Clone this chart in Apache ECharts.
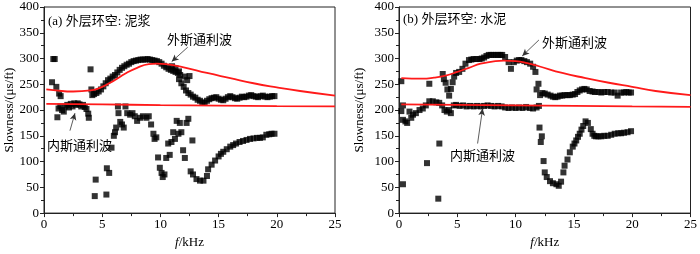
<!DOCTYPE html>
<html>
<head>
<meta charset="utf-8">
<script src="https://cdn.jsdelivr.net/npm/echarts@6/dist/echarts.min.js"></script>
<style>
  html, body { margin: 0; padding: 0; background: #fff; }
  #chart { width: 700px; height: 254px; }
</style>
</head>
<body>
<div id="chart"></div>
<script>
// 数据 (a) 外层环空: 泥浆
var scatterA = [
  [0.69,254],[0.8,299],[0.92,299],[1.06,245],[1.15,186],[1.3,232],[1.43,227],
  [1.25,203],[1.4,207],[1.55,200],[1.7,197],[1.85,207],[2.0,210],[2.15,205],[2.3,212],[2.45,207],
  [2.6,213],[2.75,210],[2.9,213],[3.05,211],[3.2,207],[3.35,210],[3.5,206],[3.65,202],[3.8,193],
  [3.85,185],[4.0,279],[4.07,240],
  [4.15,229],[4.3,231],[4.5,233],[4.7,236],[4.9,240],[5.1,246],[5.3,252],[5.5,258],[5.7,261],
  [5.9,265],[6.1,268],[6.3,273],[6.5,278],[6.7,282],[6.9,285],[7.1,288],[7.3,290],[7.5,293],
  [7.7,295],[7.9,296],[8.1,297],[8.3,298],[8.5,298],[8.7,298],[8.9,299],[9.1,298],[9.3,297],
  [9.5,296],[9.7,295],[9.9,293],[10.1,290],[10.3,286],[10.5,283],[10.7,280],[10.9,278],[11.1,276],
  [11.3,274],[11.5,272],[11.7,268],[11.6,260],[11.8,252],[12.0,245],[12.2,238],[12.4,233],
  [12.6,230],[12.8,226],[13.0,224],[13.2,220],[13.4,218],[13.6,215],[13.8,214],[14.0,218],
  [14.2,221],[14.4,223],[14.6,224],[14.8,225],[15.0,222],[15.2,220],[15.4,219],[15.6,222],
  [15.8,225],[16.0,227],[16.2,225],[16.4,223],[16.6,222],[16.8,224],[17.0,226],[17.2,225],
  [17.4,226],[17.6,228],[17.8,229],[18.0,227],[18.2,226],[18.4,225],[18.6,227],[18.8,228],
  [19.0,226],[19.2,225],[19.4,226],[19.6,227],[19.8,227],
  [11.0,285],[11.3,281],[11.6,275],[12.1,265],[12.5,266],[12.3,258],
  [4.36,33],[4.44,65],[5.36,36],[5.4,87],[5.6,78],[5.8,127],[6.0,150],[6.1,157],[6.2,166],
  [6.35,207],[6.4,194],[6.55,177],[6.7,172],[6.85,166],[7.0,207],[7.15,194],[7.4,191],[7.6,194],
  [7.8,188],[8.0,179],[8.25,185],[8.5,188],[8.8,185],[9.0,188],[9.2,172],[9.4,154],[9.5,144],
  [9.65,147],[9.8,108],[9.95,88],[10.1,78],[10.2,70],[10.35,75],[10.5,107],[10.67,135],[10.8,113],
  [10.95,138],[11.1,157],[11.25,144],[11.4,179],[11.55,154],[11.67,175],[11.8,157],[11.95,122],
  [12.1,107],[12.25,175],[12.4,183],[12.75,141],[12.6,81],[12.8,75],[13.1,66],[13.4,63],[13.7,63],
  [14.0,72],[14.1,85],[14.4,94],[14.7,102],[15.0,110],[15.2,115],[15.4,119],[15.7,124],[16.0,129],
  [16.25,132],[16.5,135],[16.8,138],[17.1,140],[17.4,142],[17.7,144],[18.0,145],[18.3,146],
  [18.55,146],[18.8,147],[19.1,152],[19.35,153],[19.55,154],[19.8,154]
];
var outerA = [[0.2,240],[1,238],[2.5,236],[4,238],[5,245],[6,257],[7,271],[8,282],[9,289],
  [9.7,290],[10.5,289],[12,283],[14,272],[16,262],[18,252],[20,244],[22,237],[25,228]];
var innerA = [[0.2,212],[5,211],[10,209.5],[15,208.5],[20,207.5],[25,207]];

// 数据 (b) 外层环空: 水泥
var scatterB = [
  [0.2,256],[0.2,198],[0.34,209],[0.34,181],[0.55,178],[0.7,175],[0.9,197],[1.05,185],[1.2,191],
  [1.45,194],[1.76,200],[2.04,203],[2.3,209],[2.6,217],[2.9,217],[3.2,215],[3.45,214],[3.7,209],
  [3.9,200],[4.1,197],[4.3,200],[4.45,194],[4.7,209],[4.9,210],[5.2,208],[5.5,209],[5.8,207],
  [6.1,208],[6.4,207],[6.7,208],[7.0,207],[7.3,208],[7.6,209],[7.9,208],[8.2,207],[8.5,208],
  [8.8,207],[9.1,205],[9.4,204],[9.7,205],[10.0,204],[10.3,205],[10.6,204],[10.9,206],[11.2,204],
  [11.5,203],[11.8,205],[12.0,208],
  [2.6,251],[3.75,270],[3.85,260],[4.0,253],[4.15,240],[4.3,228],[4.45,241],[4.6,254],[4.73,265],
  [4.9,272],[5.16,274],[5.44,280],[5.7,290],[6.0,297],[6.2,298],[6.4,299],[6.65,299],[6.9,299],
  [7.1,300],[7.3,302],[7.5,305],[7.7,307],[7.9,307],[8.1,307],[8.3,307],[8.5,307],[8.7,307],
  [8.85,307],[9.1,303],[9.4,293],[9.6,280],[9.85,293],[10.1,296],[10.3,297],[10.5,297],[10.75,295],
  [10.97,293],[11.25,290],[11.5,284],[11.7,274],[11.8,240],[11.96,251],[12.1,229],[12.3,233],
  [12.5,232],[12.75,230],[13.0,228],[13.2,226],[13.4,225],[13.6,226],[13.8,228],[14.0,228],
  [14.2,229],[14.45,229],[14.65,229],[14.9,230],[15.1,231],[15.3,235],[15.5,238],[15.7,240],
  [15.9,241],[16.1,240],[16.35,237],[16.6,236],[16.8,235],[17.1,235],[17.35,234],[17.6,235],
  [17.9,235],[18.2,234],[18.5,234],[18.75,228],[19.05,234],[19.3,234],[19.5,235],[19.7,234],[19.9,234],
  [0.34,56],[2.4,97],[3.46,135],[3.37,28],
  [12.05,166],[12.16,138],[12.25,149],[12.4,101],[12.5,79],[12.67,70],[12.95,62],[13.2,58],
  [13.5,56],[13.7,53],[13.9,61],[14.1,79],[14.2,92],[14.45,104],[14.65,118],[14.9,129],[15.05,135],
  [15.2,141],[15.35,148],[15.5,154],[15.65,162],[15.8,169],[16.0,178],[16.2,175],[16.45,163],
  [16.6,154],[16.75,150],[16.9,149],[17.1,149],[17.35,149],[17.6,150],[17.9,150],[18.2,152],
  [18.5,154],[18.8,155],[19.05,155],[19.3,156],[19.6,157],[19.9,159]
];
var outerB = [[0.2,262],[2,261],[3,263],[4,267],[5,274],[6,282],[7,290],[8,294],[9,296],[10,295],
  [11,291],[12,285],[14,272],[16,262],[18,253],[20,245],[22,237],[25,229]];
var innerB = [[0.2,211],[5,210],[10,209],[15,208],[20,207],[25,206]];

var xTicks = { min: 0, max: 25, interval: 5 };
var yTicks = { min: 0, max: 400, interval: 50 };

var serif = '"Liberation Serif", "Times New Roman", serif';
var cjk = '"Liberation Serif", "Noto Sans CJK SC", serif';

function xAxis(idx) {
  return {
    type: 'value', gridIndex: idx, min: xTicks.min, max: xTicks.max, interval: xTicks.interval,
    name: '{i|f}/kHz', nameLocation: 'middle', nameGap: 19,
    nameTextStyle: { fontFamily: serif, fontSize: 13, color: '#000',
      rich: { i: { fontFamily: serif, fontStyle: 'italic', fontSize: 13, color: '#000' } } },
    axisLine: { show: true, lineStyle: { color: '#222', width: 1 } },
    axisTick: { show: true, inside: false, length: 4, lineStyle: { color: '#222' } },
    minorTick: { show: true, splitNumber: 2, length: 3, lineStyle: { color: '#222' } },
    axisLabel: { fontFamily: serif, fontSize: 13, color: '#000', margin: 5 },
    splitLine: { show: false }
  };
}
function yAxis(idx, gap) {
  return {
    type: 'value', gridIndex: idx, min: yTicks.min, max: yTicks.max, interval: yTicks.interval,
    name: 'Slowness/(μs/ft)', nameLocation: 'middle', nameGap: gap,
    nameTextStyle: { fontFamily: serif, fontSize: 13, color: '#000' },
    axisLine: { show: true, lineStyle: { color: '#222', width: 1 } },
    axisTick: { show: true, inside: false, length: 4, lineStyle: { color: '#222' } },
    minorTick: { show: true, splitNumber: 2, length: 3, lineStyle: { color: '#222' } },
    axisLabel: { fontFamily: serif, fontSize: 13, color: '#000', margin: 5 },
    splitLine: { show: false }
  };
}
function dots(idx, data) {
  return { type: 'scatter', xAxisIndex: idx, yAxisIndex: idx, data: data,
    symbol: 'rect', symbolSize: 6, itemStyle: { color: '#000' }, z: 2, silent: true };
}
function curve(idx, data) {
  return { type: 'line', xAxisIndex: idx, yAxisIndex: idx, data: data, smooth: true,
    showSymbol: false, lineStyle: { color: '#ff1a1a', width: 1.8 }, z: 3, silent: true };
}
function arrow(idx, from, to) {
  return { type: 'line', xAxisIndex: idx, yAxisIndex: idx, data: [], silent: true,
    markLine: { silent: true, symbol: ['none', 'arrow'], symbolSize: [5, 7],
      label: { show: false }, lineStyle: { color: '#333', width: 0.8, type: 'solid' },
      data: [[{ coord: from }, { coord: to }]] } };
}
function note(x, y, text) {
  return { type: 'text', left: x, top: y, z: 10,
    style: { text: text, font: '13px ' + cjk, fill: '#000' } };
}

var option = {
  animation: false,
  grid: [
    { left: 44, top: 7, width: 291, height: 213, show: true, borderColor: '#222', borderWidth: 1 },
    { left: 399, top: 7, width: 294, height: 215, show: true, borderColor: '#222', borderWidth: 1 }
  ],
  xAxis: [xAxis(0), xAxis(1)],
  yAxis: [yAxis(0, 28), yAxis(1, 33)],
  series: [
    dots(0, scatterA), curve(0, outerA), curve(0, innerA),
    dots(1, scatterB), curve(1, outerB), curve(1, innerB),
    arrow(0, [12.35, 322], [10.97, 294]),
    arrow(0, [2.23, 160], [2.66, 194]),
    arrow(1, [12.0, 336], [10.57, 305]),
    arrow(1, [6.74, 135], [7.17, 203])
  ],
  graphic: [
    note(48, 15, '(a) 外层环空: 泥浆'),
    note(167, 34, '外斯通利波'),
    note(47, 140, '内斯通利波'),
    note(403, 13, '(b) 外层环空: 水泥'),
    note(542, 37, '外斯通利波'),
    note(450, 150, '内斯通利波')
  ]
};

var myChart = echarts.init(document.getElementById('chart'), null, { renderer: 'canvas' });
myChart.setOption(option);
</script>
</body>
</html>
